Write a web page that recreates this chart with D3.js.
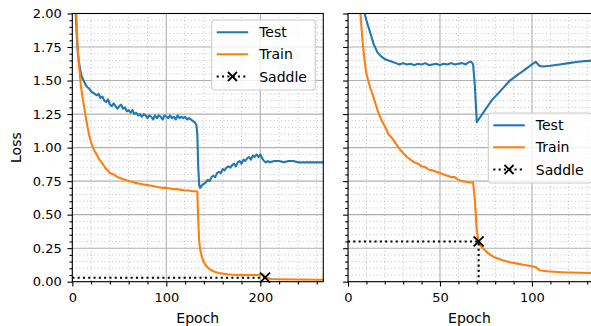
<!DOCTYPE html>
<html>
<head>
<meta charset="utf-8">
<script src="https://cdn.jsdelivr.net/npm/d3@7"></script>
<style>
  body { margin: 0; background: #fff; }
  svg { display: block; font-family: "DejaVu Sans", sans-serif; }
</style>
</head>
<body>
<svg id="chart" width="591" height="326"></svg>
<script>
// ---- data: [epoch, loss] ----
const leftTest = [[1,2.6],[3,2.1],[4,1.95],[5,1.8],[6,1.7],[7,1.64],[8,1.6],[9,1.56],[10,1.53],[12,1.5],[14,1.47],[16,1.45],[18,1.44],[20,1.42],[22,1.41],[24,1.4],[26,1.39],[28,1.4],[30,1.37],[32,1.38],[34,1.35],[36,1.34],[38,1.36],[40,1.32],[42,1.31],[44,1.33],[46,1.31],[48,1.29],[50,1.31],[52,1.32],[54,1.29],[56,1.3],[58,1.27],[60,1.28],[62,1.26],[64,1.28],[66,1.25],[68,1.26],[70,1.24],[72,1.25],[74,1.23],[76,1.25],[78,1.24],[80,1.22],[82,1.24],[84,1.23],[86,1.21],[88,1.24],[90,1.22],[92,1.24],[94,1.23],[96,1.21],[98,1.24],[100,1.23],[102,1.22],[104,1.24],[106,1.22],[108,1.23],[110,1.21],[112,1.24],[114,1.22],[116,1.23],[118,1.22],[120,1.23],[122,1.21],[124,1.22],[126,1.21],[128,1.2],[130,1.19],[132,1.17],[133,1.1],[134,0.85],[135,0.72],[136,0.7],[138,0.72],[140,0.73],[142,0.74],[144,0.76],[146,0.75],[148,0.78],[150,0.79],[152,0.78],[154,0.81],[156,0.82],[158,0.81],[160,0.84],[162,0.83],[164,0.85],[166,0.86],[168,0.85],[170,0.87],[172,0.88],[174,0.86],[176,0.89],[178,0.9],[180,0.88],[182,0.91],[184,0.9],[186,0.92],[188,0.93],[190,0.91],[192,0.94],[194,0.93],[196,0.95],[198,0.93],[200,0.95],[202,0.92],[204,0.9],[206,0.89],[208,0.9],[210,0.89],[215,0.9],[220,0.9],[225,0.89],[230,0.9],[235,0.9],[240,0.89],[245,0.89],[250,0.89],[255,0.89],[260,0.89],[267,0.89]];
const leftTrain = [[1,3.0],[3,2.3],[4,2.05],[5,1.85],[6,1.72],[7,1.62],[8,1.55],[9,1.47],[10,1.42],[11,1.37],[12,1.33],[14,1.24],[16,1.16],[18,1.09],[20,1.04],[22,1.0],[24,0.97],[26,0.95],[28,0.92],[30,0.9],[32,0.88],[34,0.86],[36,0.84],[38,0.83],[40,0.81],[44,0.8],[48,0.78],[52,0.77],[56,0.76],[60,0.75],[64,0.745],[68,0.735],[72,0.73],[76,0.725],[80,0.72],[84,0.715],[88,0.71],[92,0.705],[96,0.7],[100,0.7],[104,0.695],[108,0.69],[112,0.69],[116,0.685],[120,0.68],[124,0.68],[128,0.675],[132,0.675],[133,0.67],[134,0.45],[135,0.3],[136,0.24],[138,0.18],[140,0.145],[142,0.12],[145,0.1],[148,0.085],[152,0.072],[156,0.065],[160,0.06],[165,0.055],[170,0.052],[180,0.05],[190,0.05],[196,0.05],[200,0.052],[203,0.055],[205,0.035],[208,0.025],[212,0.02],[220,0.018],[240,0.016],[267,0.015]];
const leftSaddle = [205, 0.03];

const rightTest = [[1,3.2],[5,2.4],[8,2.05],[10,1.95],[12,1.86],[14,1.77],[16,1.71],[18,1.68],[20,1.66],[22,1.65],[24,1.64],[26,1.63],[28,1.62],[30,1.63],[32,1.62],[34,1.625],[36,1.615],[38,1.625],[40,1.62],[42,1.63],[44,1.615],[46,1.62],[48,1.625],[50,1.615],[52,1.625],[54,1.62],[56,1.63],[58,1.62],[60,1.625],[62,1.63],[64,1.62],[66,1.64],[67,1.64],[68,1.62],[69,1.45],[70,1.19],[72,1.23],[74,1.27],[76,1.31],[78,1.35],[80,1.38],[82,1.41],[84,1.44],[86,1.47],[88,1.5],[90,1.52],[92,1.54],[94,1.56],[96,1.58],[98,1.6],[100,1.62],[102,1.64],[104,1.61],[106,1.605],[110,1.61],[115,1.62],[120,1.63],[125,1.64],[133,1.65]];
const rightTrain = [[1,3.5],[4,2.6],[6,2.15],[7,1.95],[8,1.78],[9,1.65],[10,1.55],[12,1.45],[14,1.37],[16,1.28],[18,1.21],[20,1.16],[22,1.1],[24,1.07],[26,1.03],[28,0.99],[30,0.96],[32,0.93],[34,0.91],[36,0.89],[38,0.88],[40,0.86],[42,0.855],[44,0.835],[46,0.83],[48,0.82],[50,0.81],[52,0.8],[54,0.79],[56,0.78],[58,0.78],[60,0.76],[62,0.75],[64,0.745],[66,0.74],[68,0.74],[69,0.6],[70,0.38],[71,0.3],[72,0.27],[74,0.24],[76,0.215],[78,0.195],[80,0.18],[84,0.16],[88,0.145],[92,0.135],[96,0.125],[100,0.115],[102,0.11],[104,0.085],[108,0.078],[112,0.074],[116,0.071],[120,0.069],[126,0.067],[133,0.065]];
const rightSaddle = [71, 0.30];

const legendLabels = ["Test", "Train", "Saddle"];
const yTicks = [0, 0.25, 0.5, 0.75, 1.0, 1.25, 1.5, 1.75, 2.0];

const colors = { test: "#1f77b4", train: "#ff7f0e" };

const svg = d3.select("#chart");
const plotTop = 13.5, plotBottom = 281.7;

const y = d3.scaleLinear().domain([0, 2]).range([plotBottom, plotTop]);

function drawPanel(cfg) {
  const x = d3.scaleLinear().domain([0, cfg.xmax]).range([cfg.x0, cfg.x1]);
  const g = svg.append("g");

  const clipId = "clip" + cfg.id;
  svg.append("clipPath").attr("id", clipId)
    .append("rect")
    .attr("x", cfg.x0).attr("y", plotTop)
    .attr("width", cfg.x1 - cfg.x0).attr("height", plotBottom - plotTop);

  // minor grid (dotted)
  const xMinor = d3.range(0, cfg.xmax + 0.01, cfg.minorStep).filter(v => v % cfg.majorStep !== 0);
  const yMinor = d3.range(0, 41).map(i => i * 0.05).filter((v, i) => i % 5 !== 0);
  const grid = g.append("g").attr("clip-path", `url(#${clipId})`);
  grid.selectAll(".xmin").data(xMinor).join("line")
    .attr("x1", d => x(d)).attr("x2", d => x(d))
    .attr("y1", plotTop).attr("y2", plotBottom)
    .attr("stroke", "#b0b0b0").attr("stroke-width", 0.8).attr("stroke-dasharray", "1,2.6");
  grid.selectAll(".ymin").data(yMinor).join("line")
    .attr("x1", cfg.x0).attr("x2", cfg.x1)
    .attr("y1", d => y(d)).attr("y2", d => y(d))
    .attr("stroke", "#b0b0b0").attr("stroke-width", 0.8).attr("stroke-dasharray", "1,2.6");
  // major grid
  grid.selectAll(".xmaj").data(cfg.xMajor).join("line")
    .attr("x1", d => x(d)).attr("x2", d => x(d))
    .attr("y1", plotTop).attr("y2", plotBottom)
    .attr("stroke", "#b0b0b0").attr("stroke-width", 1.1);
  grid.selectAll(".ymaj").data(yTicks).join("line")
    .attr("x1", cfg.x0).attr("x2", cfg.x1)
    .attr("y1", d => y(d)).attr("y2", d => y(d))
    .attr("stroke", "#b0b0b0").attr("stroke-width", 1.1);

  // curves
  const line = d3.line().x(d => x(d[0])).y(d => y(d[1]));
  const curves = g.append("g").attr("clip-path", `url(#${clipId})`);
  curves.append("path").datum(cfg.test).attr("d", line)
    .attr("fill", "none").attr("stroke", colors.test).attr("stroke-width", 2.1).attr("stroke-linejoin", "round");
  curves.append("path").datum(cfg.train).attr("d", line)
    .attr("fill", "none").attr("stroke", colors.train).attr("stroke-width", 2.1).attr("stroke-linejoin", "round");

  // saddle guide lines and marker
  const s = cfg.saddle;
  curves.append("path")
    .datum([[0, s[1]], [s[0], s[1]], [s[0], 0]])
    .attr("d", line)
    .attr("fill", "none").attr("stroke", "#000").attr("stroke-width", 2.1)
    .attr("stroke-dasharray", "2.1,3.2");
  g.append("path")
    .attr("transform", `translate(${x(s[0])},${y(s[1])})`)
    .attr("d", "M-5,-5L5,5M-5,5L5,-5")
    .attr("stroke", "#000").attr("stroke-width", 1.8);

  // axes
  const xAxis = g.append("g").attr("transform", `translate(0,${plotBottom})`)
    .call(d3.axisBottom(x).tickValues(cfg.xMajor).tickSize(4.9).tickPadding(5.7).tickFormat(d3.format("d")));
  const xAxisMinor = g.append("g").attr("transform", `translate(0,${plotBottom})`)
    .call(d3.axisBottom(x).tickValues(xMinor).tickSize(2.8).tickFormat(""));
  const yAxis = g.append("g").attr("transform", `translate(${cfg.x0},0)`)
    .call(d3.axisLeft(y).tickValues(yTicks).tickSize(4.9).tickPadding(5.7)
      .tickFormat(cfg.yLabels ? d3.format(".2f") : ""));
  const yAxisMinor = g.append("g").attr("transform", `translate(${cfg.x0},0)`)
    .call(d3.axisLeft(y).tickValues(yMinor).tickSize(2.8).tickFormat(""));
  [xAxis, xAxisMinor, yAxis, yAxisMinor].forEach(a => {
    a.select(".domain").remove();
    a.attr("font-size", 13).attr("font-family", null).attr("color", "#000");
    a.selectAll("line").attr("stroke-width", 1.1);
    a.selectAll("text").attr("fill", "#000");
  });

  // spines
  g.append("rect")
    .attr("x", cfg.x0).attr("y", plotTop)
    .attr("width", cfg.x1 - cfg.x0).attr("height", plotBottom - plotTop)
    .attr("fill", "none").attr("stroke", "#000").attr("stroke-width", 1.1);

  // axis label
  g.append("text")
    .attr("x", (cfg.x0 + Math.min(cfg.x1, 591)) / 2 + (cfg.labelShift || 0)).attr("y", 322.5)
    .attr("text-anchor", "middle").attr("font-size", 14).attr("fill", "#000")
    .text("Epoch");

  // legend
  const lg = g.append("g").attr("transform", `translate(${cfg.legendX},${cfg.legendY})`);
  lg.append("rect")
    .attr("x", 0).attr("y", 0).attr("width", 103.5).attr("height", 70).attr("rx", 2.8)
    .attr("fill", "#fff").attr("fill-opacity", 0.8)
    .attr("stroke", "#cccccc").attr("stroke-width", 1.1);
  const rows = [12.3, 34.3, 56.5];
  const rowColor = [colors.test, colors.train, "#000"];
  legendLabels.forEach((lab, i) => {
    const ln = lg.append("line")
      .attr("x1", 5).attr("x2", 36.5).attr("y1", rows[i]).attr("y2", rows[i])
      .attr("stroke", rowColor[i]).attr("stroke-width", 2.1);
    if (i === 2) {
      ln.attr("stroke-dasharray", "2.1,3.2");
      lg.append("path")
        .attr("transform", `translate(20.75,${rows[i]})`)
        .attr("d", "M-4.5,-4.5L4.5,4.5M-4.5,4.5L4.5,-4.5")
        .attr("stroke", "#000").attr("stroke-width", 1.8);
    }
    lg.append("text")
      .attr("x", 47.5).attr("y", rows[i]).attr("dy", "0.36em")
      .attr("font-size", 14).attr("fill", "#000")
      .text(lab);
  });
}

drawPanel({
  id: "L", x0: 72.3, x1: 323.3, xmax: 267, xMajor: [0, 100, 200], majorStep: 100, minorStep: 20,
  test: leftTest, train: leftTrain, saddle: leftSaddle, yLabels: true,
  legendX: 211.7, legendY: 20
});
drawPanel({
  id: "R", x0: 348, x1: 592.7, xmax: 133, xMajor: [0, 50, 100], majorStep: 50, minorStep: 10,
  test: rightTest, train: rightTrain, saddle: rightSaddle, yLabels: false,
  legendX: 488.3, legendY: 113, labelShift: 0
});

// y label
svg.append("text")
  .attr("transform", `translate(20.5,${(plotTop + plotBottom) / 2}) rotate(-90)`)
  .attr("text-anchor", "middle").attr("font-size", 14).attr("fill", "#000")
  .text("Loss");
</script>
</body>
</html>
